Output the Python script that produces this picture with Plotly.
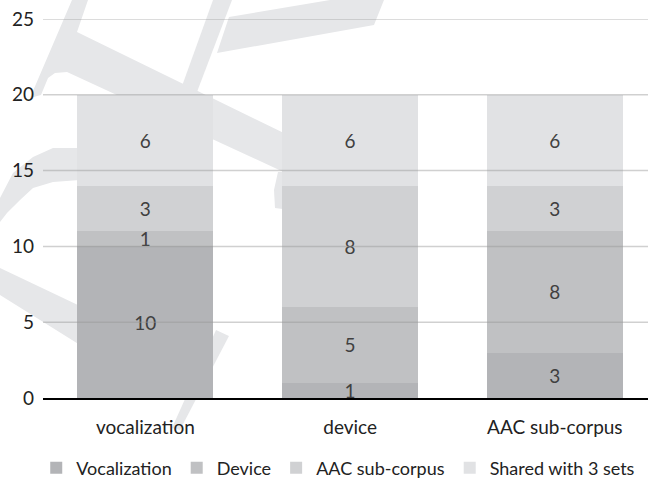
import plotly.graph_objects as go

categories = ["vocalization", "device", "AAC sub-corpus"]
series_names = ["Vocalization", "Device", "AAC sub-corpus", "Shared with 3 sets"]
vocalization_vals = [10, 1, 3]
device_vals = [1, 5, 8]
aac_vals = [3, 8, 3]
shared_vals = [6, 6, 6]
y_ticks = [0, 5, 10, 15, 20, 25]

series_vals = [vocalization_vals, device_vals, aac_vals, shared_vals]
colors = ["#b3b4b7", "#c0c1c3", "#d0d1d3", "#e1e2e4"]

W, H = 648, 482
ML, MR, MT, MB = 43, 0, 19, 84
PW = W - ML - MR
PH = H - MT - MB
FONT = "Lato"
FS = 19

fig = go.Figure()
for name, vals, col in zip(series_names, series_vals, colors):
    fig.add_trace(go.Bar(
        x=categories, y=vals, name=name,
        marker=dict(color=col, line=dict(width=0)),
        text=[str(v) for v in vals],
        textposition="inside", insidetextanchor="middle", textangle=0,
        textfont=dict(family=FONT, size=FS, color="#404040"),
        hoverinfo="skip",
    ))

def px(x):
    return (x - ML) / PW

def py(y):
    return (H - MB - y) / PH

def path(pts):
    s = "M " + " L ".join(f"{px(a):.4f},{py(b):.4f}" for a, b in pts) + " Z"
    return s

wm = "#e6e7e9"
watermark = [
    [(72, 0), (88, 0), (77, 32), (290, 136), (290, 175), (67, 72), (55, 73), (48, 78), (41, 95), (30, 98)],
    [(213, 0), (232, 0), (197, 92), (182, 86)],
    [(229, 17), (330, 0), (384, 0), (374, 25), (217, 53)],
    [(0, 198), (13, 173), (33, 157), (53, 148), (80, 148), (80, 180), (53, 182), (33, 188), (20, 200), (7, 213), (0, 222)],
    [(0, 268), (80, 306), (80, 345), (0, 295)],
    [(216, 330), (229, 336), (180, 430), (172, 428)],
    [(278, 172), (290, 172), (290, 210), (275, 208), (274, 190)],
]
for poly in watermark:
    fig.add_shape(type="path", path=path(poly), xref="paper", yref="paper",
                  fillcolor=wm, line=dict(width=0), layer="below")

for v in y_ticks[1:]:
    fig.add_shape(type="line", xref="paper", x0=0, x1=1, yref="y", y0=v, y1=v,
                  line=dict(color="rgba(150,150,150,0.45)", width=1.5), layer="above")

fig.update_layout(
    width=W, height=H,
    margin=dict(l=ML, r=MR, t=MT, b=MB, pad=0, autoexpand=False),
    barmode="stack", bargap=0.336,
    paper_bgcolor="white", plot_bgcolor="rgba(0,0,0,0)",
    font=dict(family=FONT, size=FS, color="#222222"),
    uniformtext=dict(minsize=FS, mode="show"),
    showlegend=True,
    legend=dict(orientation="h", x=0.488, xanchor="center", y=(398 - 468) / PH, yanchor="middle",
                font=dict(family=FONT, size=18, color="#222222"), traceorder="normal",
                itemwidth=30, bgcolor="rgba(0,0,0,0)", borderwidth=0,
                tracegroupgap=0),
    xaxis=dict(range=[-0.5, 2.455], showgrid=False, showline=True, linecolor="black", linewidth=2,
               ticks="", ticklabelstandoff=11, layer="above traces", fixedrange=True,
               automargin=False),
    yaxis=dict(range=[0, 25], tickvals=y_ticks, showgrid=False, zeroline=False, showline=False,
               ticks="", ticklabelstandoff=8, fixedrange=True, automargin=False),
)

fig.write_html("out.html")
